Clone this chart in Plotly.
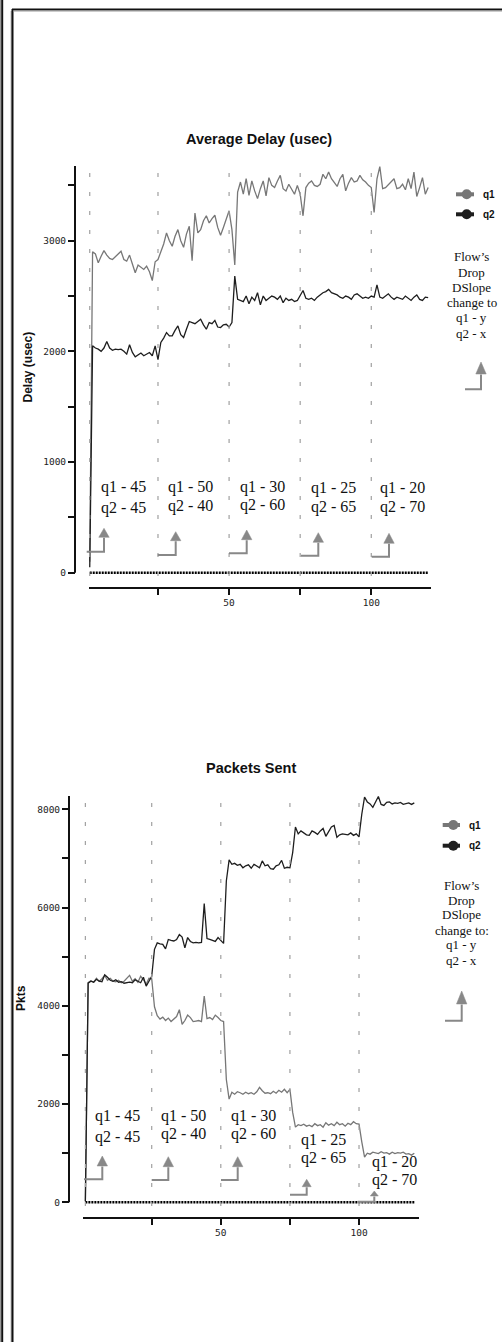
import plotly.graph_objects as go

W, H = 502, 1342

# ---------------- data ----------------
x = list(range(1, 121))
baseline = [0] * 120

q1_delay = [
    100, 2900, 2880, 2800, 2860, 2910, 2870, 2840, 2830, 2860,
    2880, 2905, 2830, 2815, 2870, 2790, 2710, 2780, 2760, 2740,
    2770, 2720, 2640, 2810, 2830, 2900, 2970, 3070, 3000, 2950,
    3040, 3100, 3000, 2940, 3060, 3130, 2820, 3250, 3070, 3100,
    3180, 3225, 3160, 3200, 3230, 3120, 3050, 3120, 3200, 3270,
    3100, 2780, 3440, 3530, 3420, 3560, 3410, 3540, 3450, 3380,
    3470, 3540, 3405, 3570, 3500, 3480, 3540, 3590, 3470, 3450,
    3510, 3470, 3420, 3500, 3420, 3225, 3480, 3520, 3540, 3500,
    3490, 3510, 3600, 3560, 3620, 3560, 3520, 3490, 3560, 3600,
    3450, 3520, 3570, 3530, 3540, 3590, 3550, 3530, 3500, 3480,
    3255, 3560, 3670, 3470, 3480, 3510, 3530, 3560, 3470, 3480,
    3510, 3460, 3560, 3470, 3620, 3400, 3480, 3570, 3420, 3480,
]
q2_delay = [
    50, 2050, 2030, 2020, 2000, 2030, 2090, 2030, 2010, 2020,
    2015, 2020, 2000, 1975, 2060, 1990, 1950, 1970, 1985, 1960,
    1975, 1990, 1960, 2050, 1925, 2080, 2120, 2170, 2140, 2140,
    2190, 2230, 2150, 2125, 2200, 2270, 2260, 2250, 2270, 2290,
    2240, 2200, 2260, 2250, 2280, 2220, 2215, 2240, 2245, 2220,
    2260, 2680, 2470, 2460, 2450, 2500, 2430, 2490, 2460, 2530,
    2420, 2500, 2460, 2480, 2500, 2490, 2470, 2500, 2440, 2480,
    2460, 2470, 2450, 2460, 2500, 2550, 2480, 2470, 2480, 2460,
    2490, 2510, 2530, 2540, 2560, 2530, 2520, 2510, 2490, 2480,
    2500, 2490, 2470, 2510, 2520, 2500, 2480, 2490, 2480, 2500,
    2490, 2600, 2490, 2480, 2500, 2520, 2490, 2470, 2490, 2480,
    2470, 2500, 2480, 2460, 2490, 2510, 2470, 2460, 2490, 2485,
]
q1_pkts = [
    20, 4470, 4510, 4480, 4560, 4500, 4550, 4620, 4520, 4560,
    4500, 4490, 4520, 4470, 4500, 4560, 4620, 4500, 4550, 4480,
    4600, 4530, 4440, 4560, 4550, 3980, 3800, 3730, 3770, 3700,
    3750, 3680, 3740, 3780, 3920, 3620, 3700, 3810, 3760, 3680,
    3690, 3700, 3680, 4200, 3740, 3760, 3720, 3810, 3760, 3700,
    3680, 2500, 2100, 2240, 2200, 2250, 2230, 2200, 2240, 2210,
    2230, 2200, 2250, 2340, 2270, 2220, 2230, 2210, 2260, 2220,
    2280, 2240, 2300, 2230, 2300, 1830, 1530, 1580, 1560, 1590,
    1550, 1570, 1540, 1600, 1560, 1580, 1530, 1620, 1570, 1600,
    1560, 1630, 1580, 1600, 1550, 1610, 1580, 1640, 1600, 1590,
    1230, 920, 1000, 980, 1020, 1000, 990, 1030, 1000, 1010,
    980, 1020, 990, 1010, 1000, 1020, 980, 990, 960, 1000,
]
q2_pkts = [
    20, 4460, 4500, 4480, 4540, 4500, 4490, 4630, 4580, 4520,
    4500, 4530, 4480, 4490, 4460, 4470, 4480, 4470, 4530, 4500,
    4470, 4580, 4400, 4500, 4600, 5150, 5280, 5260, 5250, 5160,
    5350, 5330, 5320, 5350, 5450, 5400, 5180, 5390, 5310, 5280,
    5290, 5280, 5290, 6080, 5370, 5350, 5330, 5310, 5390, 5330,
    5270, 6540, 6970, 6880, 6900, 6860, 6880, 6810, 6850, 6870,
    6800, 6880, 6840, 6810, 6950, 6850, 6870, 6790, 6780, 6850,
    6870, 6960, 6800, 6820, 6810, 7120, 7640, 7500, 7560, 7520,
    7480, 7470, 7560, 7530, 7490, 7560, 7610, 7450, 7560, 7640,
    7670, 7430, 7480, 7500, 7490, 7480, 7520, 7470, 7500, 7440,
    7900, 8250, 8150, 8110, 8040, 8150, 8260, 8100, 8080, 8140,
    8150, 8110, 8130, 8120, 8140, 8100, 8120, 8130, 8100, 8130,
]

phase_x = [1, 25, 50, 75, 100]
q1_slope = [45, 50, 30, 25, 20]
q2_slope = [45, 40, 60, 65, 70]
delay_ticks = [0, 1000, 2000, 3000]
delay_minor = [500, 1500, 2500, 3500]
pkts_ticks = [0, 2000, 4000, 6000, 8000]
pkts_minor = [1000, 3000, 5000, 7000]
x_ticks = [25, 50, 75, 100]
x_ticktext = ["", "50", "", "100"]
side_lines_1 = ["Flow\u2019s", "Drop", "DSlope", "change to", "q1 - y", "q2 - x"]
side_lines_2 = ["Flow\u2019s", "Drop", "DSlope", "change to:", "q1 - y", "q2 - x"]

# ---------------- helpers ----------------
def px(p):
    return p / W

def py(p):
    return 1 - p / H

GRAY = "#777777"
BLACK = "#1e1e1e"
ARROW = "#888888"
SERIF = "Liberation Serif"
SANS = "Liberation Sans"
MONO = "DejaVu Sans Mono"

fig = go.Figure()

for xa, ya, s1, s2 in [("x", "y", q1_delay, q2_delay), ("x2", "y2", q1_pkts, q2_pkts)]:
    fig.add_trace(go.Scatter(x=x, y=s1, xaxis=xa, yaxis=ya, mode="lines", name="q1",
                             line=dict(color=GRAY, width=1.3)))
    fig.add_trace(go.Scatter(x=x, y=s2, xaxis=xa, yaxis=ya, mode="lines", name="q2",
                             line=dict(color=BLACK, width=1.3)))
    fig.add_trace(go.Scatter(x=x, y=baseline, xaxis=xa, yaxis=ya, mode="lines", name="base",
                             line=dict(color="black", width=2.5, dash="2px,1px")))

tickfont = dict(family=MONO, size=9.5, color="#222")

def xaxis_cfg(d0, d1, r0, r1, ypos):
    return dict(domain=[px(d0), px(d1)], range=[r0, r1], anchor="free", position=py(ypos),
                showline=True, linecolor="#111", linewidth=2, ticks="outside", ticklen=6,
                tickwidth=1.5, tickcolor="#111", tickvals=x_ticks, ticktext=x_ticktext,
                tickfont=tickfont, showgrid=False, zeroline=False)

def yaxis_cfg(top, bot, r0, r1, xpos, tv, mv):
    return dict(domain=[py(bot), py(top)], range=[r0, r1], anchor="free", position=px(xpos),
                showline=False, ticks="outside", ticklen=7, tickwidth=1.5, tickcolor="#111",
                tickvals=tv, tickfont=tickfont, showgrid=False, zeroline=False,
                minor=dict(tickvals=mv, ticks="outside", ticklen=7, tickwidth=1.5,
                           tickcolor="#111", showgrid=False))

fig.update_layout(
    width=W, height=H, margin=dict(l=0, r=0, t=0, b=0),
    paper_bgcolor="white", plot_bgcolor="white", showlegend=False,
    xaxis=xaxis_cfg(89, 431, 0.74, 121.0, 588),
    yaxis=yaxis_cfg(166, 580, -66, 3675, 75, delay_ticks, delay_minor),
    xaxis2=xaxis_cfg(83.3, 419, 0.25, 121.7, 1217.7),
    yaxis2=yaxis_cfg(796, 1207, -96, 8271, 69, pkts_ticks, pkts_minor),
)

shapes = []
ann = []

# frame
shapes += [
    dict(type="line", xref="paper", yref="paper", x0=px(0.5), x1=px(0.5), y0=0, y1=1,
         line=dict(color="#999", width=1)),
    dict(type="line", xref="paper", yref="paper", x0=px(2.2), x1=px(2.2), y0=0, y1=1,
         line=dict(color="#111", width=2)),
    dict(type="line", xref="paper", yref="paper", x0=px(11.2), x1=px(11.2), y0=0, y1=py(11),
         line=dict(color="#999", width=1)),
    dict(type="line", xref="paper", yref="paper", x0=px(12.5), x1=px(12.5), y0=0, y1=py(9),
         line=dict(color="#111", width=2)),
    dict(type="line", xref="paper", yref="paper", x0=px(12), x1=1, y0=py(9.5), y1=py(9.5),
         line=dict(color="#111", width=2)),
    dict(type="line", xref="paper", yref="paper", x0=px(13), x1=1, y0=py(11), y1=py(11),
         line=dict(color="#999", width=1)),
]

# y axis lines
shapes.append(dict(type="line", xref="paper", yref="y", x0=px(75), x1=px(75), y0=0, y1=3675,
                   line=dict(color="#111", width=2)))
shapes.append(dict(type="line", xref="paper", yref="y2", x0=px(69), x1=px(69), y0=0, y1=8271,
                   line=dict(color="#111", width=2)))

# dashed phase lines
for xr, top, bot in [("x", 173, 580), ("x2", 803, 1207)]:
    for xv in phase_x:
        shapes.append(dict(type="line", xref=xr, yref="paper", x0=xv, x1=xv, y0=py(top), y1=py(bot),
                           line=dict(color="#a0a0a0", width=1.2, dash="4px,15px")))

def arrow(xl, xr, yh, ybase, ytip, hw=5.2):
    p1 = f"M{px(xl)},{py(yh)} L{px(xr)},{py(yh)} L{px(xr)},{py(ybase + 0.5)}"
    shapes.append(dict(type="path", xref="paper", yref="paper", path=p1,
                       line=dict(color=ARROW, width=2)))
    p2 = f"M{px(xr - hw)},{py(ybase)} L{px(xr + hw)},{py(ybase)} L{px(xr)},{py(ytip)} Z"
    shapes.append(dict(type="path", xref="paper", yref="paper", path=p2,
                       fillcolor=ARROW, line=dict(color=ARROW, width=0.5)))

for a in [(86.7, 104, 551.7, 537.3, 528.3), (157.7, 175.7, 555, 540.7, 531.7),
          (229, 246.7, 553.3, 539.7, 530), (301, 318.3, 555.7, 542.3, 532.7),
          (371.7, 389, 556.7, 543.3, 533.3)]:
    arrow(*a)
for a in [(84, 102.3, 1179.3, 1166, 1156), (151.7, 168.3, 1180, 1166.7, 1156.7),
          (221, 237.7, 1180, 1166.7, 1156.7)]:
    arrow(*a)
arrow(290, 306.7, 1194.7, 1186.7, 1179.3, hw=4.5)
arrow(357.7, 374.3, 1201.7, 1196, 1191, hw=4)
arrow(465, 481, 389.3, 374, 362)
arrow(445, 461.7, 1020.7, 1004, 991)

def text(t, xp, yp, size, family=SERIF, angle=0, color="#111"):
    ann.append(dict(text=t, xref="paper", yref="paper", x=px(xp), y=py(yp), showarrow=False,
                    xanchor="center", yanchor="middle", textangle=angle,
                    font=dict(family=family, size=size, color=color)))

# titles
text("<b>Average Delay (usec)</b>", 259.2, 139, 14.5, SANS)
text("<b>Packets Sent</b>", 250.5, 768.3, 14.5, SANS)
text("<b>Delay (usec)</b>", 27.5, 367, 12, SANS, angle=-90)
text("<b>Pkts</b>", 21, 998, 12, SANS, angle=-90)

# phase labels
pos1 = [(123.5, 487.3, 508.3), (190, 487.3, 506), (262.7, 487.3, 505.3),
        (333.8, 488, 506.7), (402, 488, 506.7)]
pos2 = [(117.5, 1116, 1136.7), (183, 1116, 1134), (253.8, 1116, 1134),
        (323.3, 1140, 1158), (394, 1162, 1180)]
for pos in (pos1, pos2):
    for (cx, y1, y2), a, b in zip(pos, q1_slope, q2_slope):
        text(f"q1 - {a}", cx, y1, 16)
        text(f"q2 - {b}", cx, y2, 16)

# side notes
for t, yy in zip(side_lines_1, [256.7, 272.3, 287.7, 302.7, 317.3, 333.3]):
    text(t, 471.7, yy, 13)
for t, yy in zip(side_lines_2, [885, 900.5, 915, 930, 944.5, 960.5]):
    text(t, 461.5, yy, 13)

# legends
def legend(lx0, lx1, cx, tx, ys):
    for (name, col), yy in zip([("q1", GRAY), ("q2", BLACK)], ys):
        shapes.append(dict(type="line", xref="paper", yref="paper", x0=px(lx0), x1=px(lx1),
                           y0=py(yy), y1=py(yy), line=dict(color=col, width=4)))
        shapes.append(dict(type="circle", xref="paper", yref="paper", x0=px(cx - 5), x1=px(cx + 5),
                           y0=py(yy + 5), y1=py(yy - 5), fillcolor=col, line=dict(color=col, width=0)))
        ann.append(dict(text=f"<b>{name}</b>", xref="paper", yref="paper", x=px(tx), y=py(yy),
                        showarrow=False, xanchor="left", yanchor="middle",
                        font=dict(family=SANS, size=10, color="#111")))

legend(456, 474, 466.7, 480.5, [194.3, 214.3])
legend(442.7, 460, 453.3, 467, [825, 845.7])

fig.update_layout(shapes=shapes, annotations=ann)
fig.write_html("out.html")
